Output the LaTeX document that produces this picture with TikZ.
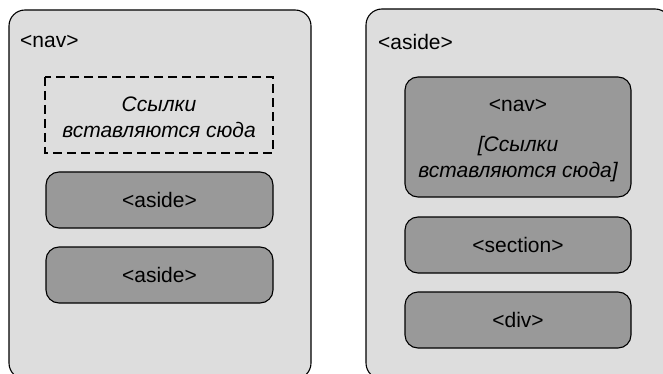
\documentclass[tikz,border=0pt]{standalone}
\usepackage{fontspec}
\setmainfont{Liberation Sans}
\begin{document}
\begin{tikzpicture}[x=1pt,y=-1pt,
  outerbox/.style={draw=black,line width=1.1pt,fill=outergray,rounded corners=16pt},
  innerbox/.style={draw=black,line width=1.1pt,fill=innergray,rounded corners=13pt},
  lbl/.style={font=\fontsize{21}{24}\selectfont,inner sep=0pt},
  itlbl/.style={font=\fontsize{21}{26}\selectfont\itshape,inner sep=0pt,align=center}]
\definecolor{outergray}{HTML}{DDDDDD}
\definecolor{innergray}{HTML}{999999}
\useasboundingbox (0,0) rectangle (663,374);
\clip (0,0) rectangle (663,374);
% left
\draw[outerbox] (9,10) rectangle (311,379);
\node[lbl,anchor=west] (navlbl) at (20,41) {<nav>};
\draw[line width=1.1pt,dash pattern=on 9pt off 5pt] (45,77) rectangle (273,153);
\node[itlbl] (links) at (159,117) {Ссылки\\вставляются сюда};
\node[innerbox,lbl,minimum width=227pt,minimum height=56pt] (aside1) at (159.5,200) {<aside>};
\node[innerbox,lbl,minimum width=227pt,minimum height=56pt] (aside2) at (159.5,275) {<aside>};
% right
\draw[outerbox] (366,9) rectangle (671,379);
\node[lbl,anchor=west] (asidelbl) at (378,42) {<aside>};
\node[innerbox,minimum width=226pt,minimum height=120pt] (nav) at (518,137) {};
\node[lbl] (navtxt) at (518,105) {<nav>};
\node[itlbl] (links2) at (518,159) {[Ссылки\\вставляются сюда]};
\node[innerbox,lbl,minimum width=226pt,minimum height=56pt] (section) at (518,245) {<section>};
\node[innerbox,lbl,minimum width=226pt,minimum height=56pt] (div) at (518,320) {<div>};
\end{tikzpicture}
\end{document}
